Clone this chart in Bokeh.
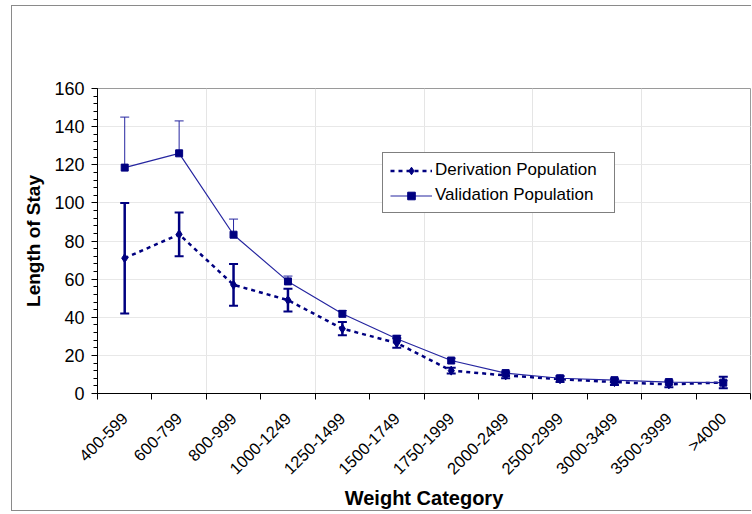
import numpy as np
from bokeh.plotting import figure
from bokeh.models import (ColumnDataSource, Range1d, LinearAxis, FixedTicker, Whisker,
                          TeeHead, Legend, LegendItem, Grid)
from bokeh.embed import file_html
from bokeh.resources import INLINE

categories = ["400-599", "600-799", "800-999", "1000-1249", "1250-1499", "1500-1749",
              "1750-1999", "2000-2499", "2500-2999", "3000-3499", "3500-3999", ">4000"]
derivation = [71, 83.5, 57, 49, 34, 26.5, 12, 9.5, 7.5, 6, 4.8, 5.8]
derivation_err = [29, 11.5, 11, 6, 3.5, 2.5, 1.5, 1.5, 1.5, 1.5, 1.5, 3]
validation = [118.5, 126, 83.3, 58.8, 41.8, 28.7, 17.3, 10.7, 8.0, 7.0, 6.0, 5.7]
validation_err = [26.5, 17, 8.2, 2.8, 1.7, 1.8, 1.2, 1.0, 1.2, 1.0, 1.0, 1.0]
y_ticks = [0, 20, 40, 60, 80, 100, 120, 140, 160]

FONT = "Liberation Sans"
NAVY = "#000080"
LINE_BLUE = "#2626a0"

n = len(categories)
xs = np.arange(n) + 0.5
d = np.array(derivation)
de = np.array(derivation_err)
v = np.array(validation)
ve = np.array(validation_err)

src = ColumnDataSource(dict(x=xs, d=d, d_lo=d - de, d_hi=d + de,
                            v=v, v_hi=v + ve))

p = figure(width=740, height=506, output_backend="svg", toolbar_location=None,
           x_range=Range1d(0, n), y_range=Range1d(0, 160),
           x_axis_location=None, y_axis_location=None,
           min_border_left=85, min_border_right=2, min_border_top=82, min_border_bottom=118)
p.margin = (5, 0, 0, 11)
p.styles = {"border-left": "1px solid #8a8a8a", "border-top": "1px solid #8a8a8a",
            "border-bottom": "1px solid #8a8a8a"}
p.background_fill_color = "white"
p.border_fill_color = "white"
p.outline_line_color = "#9a9a9a"
p.outline_line_width = 1

# axes
yaxis = LinearAxis(ticker=FixedTicker(ticks=y_ticks, minor_ticks=list(range(0, 161, 4))))
yaxis.axis_label = "Length of Stay"
yaxis.axis_label_text_font = FONT
yaxis.axis_label_text_font_style = "bold"
yaxis.axis_label_text_font_size = "19px"
yaxis.axis_label_text_color = "black"
yaxis.axis_label_standoff = 7
yaxis.major_label_text_font = FONT
yaxis.major_label_text_font_size = "18px"
yaxis.major_label_text_color = "black"
yaxis.major_label_standoff = 7
yaxis.axis_line_color = "black"
yaxis.major_tick_in = 0
yaxis.major_tick_out = 6
yaxis.minor_tick_in = 0
yaxis.minor_tick_out = 4
yaxis.major_tick_line_color = "black"
yaxis.minor_tick_line_color = "black"
p.add_layout(yaxis, "left")

xaxis = LinearAxis(ticker=FixedTicker(ticks=list(xs), minor_ticks=list(range(0, n + 1))))
xaxis.major_label_overrides = {float(x): c for x, c in zip(xs, categories)}
xaxis.major_label_orientation = np.pi / 4
xaxis.major_label_text_font = FONT
xaxis.major_label_text_font_size = "16.5px"
xaxis.major_label_text_color = "black"
xaxis.major_label_standoff = 16
xaxis.major_tick_in = 0
xaxis.major_tick_out = 0
xaxis.minor_tick_in = 0
xaxis.minor_tick_out = 6
xaxis.minor_tick_line_color = "black"
xaxis.axis_line_color = "black"
xaxis.axis_label = "Weight Category"
xaxis.axis_label_text_font = FONT
xaxis.axis_label_text_font_style = "bold"
xaxis.axis_label_text_font_size = "20px"
xaxis.axis_label_text_color = "black"
xaxis.axis_label_standoff = 0
p.add_layout(xaxis, "below")

p.add_layout(Grid(dimension=1, ticker=FixedTicker(ticks=y_ticks), grid_line_color="#e8e8e8",
                  grid_line_width=1))

# error bars
p.add_layout(Whisker(source=src, base="x", upper="d_hi", lower="d_lo", dimension="height",
                     line_color=NAVY, line_width=2.5,
                     upper_head=TeeHead(size=9, line_color=NAVY, line_width=2),
                     lower_head=TeeHead(size=9, line_color=NAVY, line_width=2)))
p.add_layout(Whisker(source=src, base="x", upper="v_hi", lower="v", dimension="height",
                     line_color=LINE_BLUE, line_width=1,
                     upper_head=TeeHead(size=9, line_color=LINE_BLUE, line_width=1),
                     lower_head=None))

dl = p.line("x", "d", source=src, line_color=NAVY, line_width=2.5, line_dash="4 4")
dm = p.scatter("x", "d", source=src, marker="diamond", size=9, fill_color=NAVY, line_color=NAVY)
vl = p.line("x", "v", source=src, line_color=LINE_BLUE, line_width=1.2)
vm = p.scatter("x", "v", source=src, marker="square", size=7, fill_color=NAVY, line_color=NAVY)

legend = Legend(items=[LegendItem(label="Derivation Population", renderers=[dl, dm]),
                       LegendItem(label="Validation Population", renderers=[vl, vm])],
                location=(285, 180))
legend.border_line_color = "black"
legend.border_line_width = 1
legend.background_fill_color = "white"
legend.background_fill_alpha = 1
legend.label_text_font = FONT
legend.label_text_font_size = "17px"
legend.label_text_color = "black"
legend.glyph_width = 42
legend.glyph_height = 19
legend.label_height = 19
legend.label_width = 172
legend.spacing = 5
legend.padding = 7
legend.margin = 0
legend.label_standoff = 3
p.add_layout(legend, "center")

open("out.html", "w").write(file_html(p, INLINE))
